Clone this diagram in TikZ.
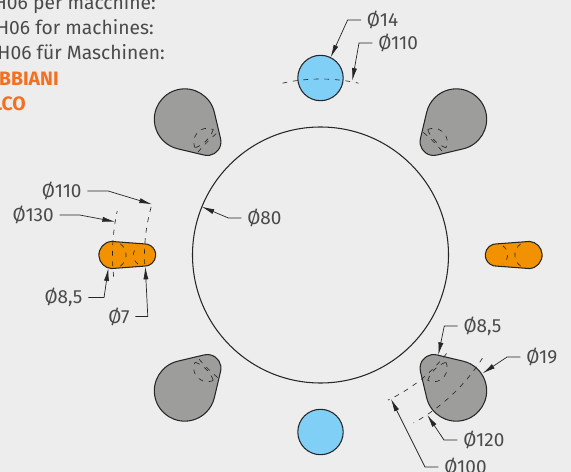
\documentclass[tikz,border=0pt]{standalone}
\usepackage{fontspec}
\setmainfont{Fira Sans}
\usetikzlibrary{arrows.meta,calc}
\definecolor{backcol}{HTML}{EDEDED}
\definecolor{inkcol}{HTML}{262626}
\definecolor{textcol}{HTML}{4A4A4A}
\definecolor{greycol}{HTML}{9D9D9C}
\definecolor{bluecol}{HTML}{80CFF7}
\definecolor{orangecol}{HTML}{F39200}
\definecolor{titlecol}{HTML}{F37021}
\tikzset{
  outline/.style={draw=inkcol,line width=.75pt},
  hidden/.style={draw=inkcol,line width=.45pt,dash pattern=on 3.5pt off 4pt},
  leader/.style={draw=inkcol,line width=.5pt,-{Latex[length=9pt,width=3.6pt]}},
  dimtext/.style={anchor=west,inner xsep=4pt,inner ysep=2pt,text=textcol,font=\fontsize{13.5}{15}\selectfont},
  toptext/.style={anchor=base east,inner sep=0pt,text=textcol,font=\fontsize{13.7}{15}\selectfont},
  maketext/.style={anchor=base east,inner sep=0pt,text=titlecol,font=\fontsize{13.8}{15}\selectfont\bfseries}
}
\begin{document}
\begin{tikzpicture}[x=.25mm,y=-.25mm]
  % frame
  \clip (0,0) rectangle (571,472);
  \fill[backcol] (0,0) rectangle (571,472);
  % heading, cut by the frame
  \node[toptext] (line1) at (156,10) {H06 per macchine:};
  \node[toptext] (line2) at (154,34.5) {H06 for machines:};
  \node[toptext] (line3) at (165,59.5) {H06 für Maschinen:};
  \node[maketext] (make1) at (59,86) {BBIANI};
  \node[maketext] (make2) at (26,110.5) {LCO};
  % everything round the centre of the big circle
  \begin{scope}[shift={(320.5,255)}]
    % big circle
    \coordinate (mid) at (0,0);
    \draw[outline] (mid) circle (128);
    % grey lobes
    \foreach \a in {45,135,225,315}{
      \draw[outline,fill=greycol,rotate=\a] (192,0)++(121.7:30.4) arc (121.7:-121.7:30.4)
        -- ($(160,0)+(-121.7:13.6)$) arc (-121.7:-238.3:13.6) -- cycle;
      % hidden lens
      \draw[hidden,rotate=\a] (160,0)++(-70.9:13.6) arc (-70.9:70.9:13.6);
      \draw[hidden,rotate=\a] (192,0)++(155:30.4) arc (155:205:30.4);
    }
    \foreach \a in {45,135,225}{
      \draw[hidden,rotate=\a] (-5:160) arc (-5:5:160);
    }
    % orange slots
    \foreach \a in {0,180}{
      \draw[outline,fill=orangecol,rotate=\a] (208,0)++(85.7:13.6) arc (85.7:-85.7:13.6)
        -- ($(176,0)+(-85.7:11.2)$) arc (-85.7:-274.3:11.2) -- cycle;
      \draw[hidden,rotate=\a] (208,0)++(125:13.6) arc (125:235:13.6);
      \draw[hidden,rotate=\a] (176,0)++(-55:11.2) arc (-55:55:11.2);
    }
    % blue holes
    \foreach \a in {90,270}{
      \draw[outline,fill=bluecol] (\a:177) circle (22.7);
    }
    % hidden pitch circles
    \draw[hidden] (257.5:176) arc (257.5:282.5:176);
    \draw[hidden] (174:208) arc (174:192.2:208);
    \draw[hidden] (177:176) arc (177:195.8:176);
    \draw[hidden] (38:160) arc (38:65:160);
    \draw[hidden] (32.5:192) arc (32.5:61:192);
  \end{scope}
  % dimension labels
  \node[dimtext] (top14) at (361,20) {Ø14};
  \node[dimtext] (top110) at (372.4,43) {Ø110};
  \node[dimtext] (left110) at (36,191) {Ø110};
  \node[dimtext] (left130) at (6.7,215) {Ø130};
  \node[dimtext] (slot85) at (38.7,297.5) {Ø8,5};
  \node[dimtext] (slot7) at (102.4,316.5) {Ø7};
  \node[dimtext] (mid80) at (241.4,218) {Ø80};
  \node[dimtext] (lobe85) at (457.7,326) {Ø8,5};
  \node[dimtext] (lobe19) at (520.4,357) {Ø19};
  \node[dimtext] (lobe120) at (457.4,440) {Ø120};
  \node[dimtext] (lobe100) at (438.4,467) {Ø100};
  % arrow ends
  \coordinate (tip14) at (330.7,57.3);
  \coordinate (tip110) at (352.3,80.7);
  \coordinate (tipleft110) at (152,204.3);
  \coordinate (tipleft130) at (115,221.7);
  \coordinate (tipslot85) at (108.3,268.3);
  \coordinate (tipslot7) at (145.3,266.7);
  \coordinate (tipmid80) at (201.7,206.7);
  \coordinate (tiplobe85) at (438.3,355);
  \coordinate (tiplobe19) at (482.7,373.3);
  \coordinate (tiplobe120) at (427.3,415);
  \coordinate (tiplobe100) at (391,399);
  % leaders
  \draw[leader] (top14.west) -- ++(-13.4,0) -- (tip14);
  \draw[leader] (top110.west) -- ++(-13.4,0) -- (tip110);
  \draw[leader] (left110.east) -- ++(20.7,0) -- (tipleft110);
  \draw[leader] (left130.east) -- ++(20,0) -- (tipleft130);
  \draw[leader] (slot85.east) -- ++(15.7,0) -- (tipslot85);
  \draw[leader] (slot7.east) -- ++(12.4,0) -- (tipslot7);
  \draw[leader] (mid80.west) -- ++(-13,0) -- (tipmid80);
  \draw[leader] (lobe85.west) -- ++(-13.4,0) -- (tiplobe85);
  \draw[leader] (lobe19.west) -- ++(-13.4,0) -- (tiplobe19);
  \draw[leader] (lobe120.west) -- ++(-13.4,0) -- (tiplobe120);
  \draw[leader] (lobe100.west) -- ++(-13.4,0) -- (tiplobe100);
\end{tikzpicture}
\end{document}
